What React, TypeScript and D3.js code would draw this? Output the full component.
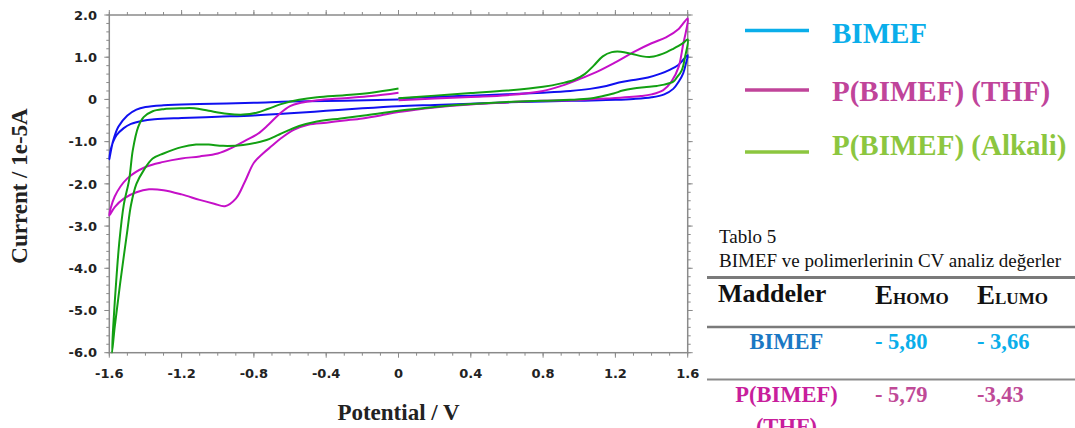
import React from "react";
import * as d3 from "d3";

// ---------- data (Potential / V, Current / 1e-5A) ----------
const bimefPotential = [
  0, 0.2, 0.4, 0.6, 0.8, 0.95, 1.06, 1.15, 1.22, 1.3, 1.38, 1.45, 1.5, 1.55, 1.6,
  1.59, 1.575, 1.55, 1.52, 1.47, 1.4, 1.3, 1.2, 1.0, 0.8, 0.6, 0.4, 0.2, 0, -0.2, -0.4, -0.6, -0.8, -1.0, -1.2, -1.35, -1.42, -1.48, -1.52, -1.56, -1.59, -1.6,
  -1.58, -1.55, -1.5, -1.45, -1.4, -1.3, -1.1, -0.8, -0.6, -0.3, 0,
];
const bimefCurrent = [
  0.02, 0.06, 0.09, 0.12, 0.16, 0.2, 0.25, 0.32, 0.4, 0.46, 0.52, 0.61, 0.7, 0.82, 1.05,
  0.85, 0.62, 0.42, 0.25, 0.12, 0.05, 0.01, -0.01, -0.03, -0.05, -0.07, -0.1, -0.13, -0.16, -0.21, -0.27, -0.33, -0.38, -0.41, -0.44, -0.47, -0.51, -0.58, -0.68, -0.85, -1.15, -1.42,
  -1.0, -0.65, -0.38, -0.24, -0.18, -0.14, -0.11, -0.08, -0.05, -0.03, 0.0,
];

const thfPotential = [
  0, 0.2, 0.4, 0.6, 0.8, 0.9, 1.0, 1.1, 1.2, 1.3, 1.4, 1.48, 1.55, 1.6,
  1.59, 1.576, 1.55, 1.51, 1.465, 1.4, 1.34, 1.15, 0.97, 0.78, 0.6, 0.4, 0.2, 0,
  -0.1, -0.2, -0.3, -0.4, -0.5, -0.58, -0.65, -0.7, -0.75, -0.8, -0.85, -0.9, -0.96, -1.02, -1.1, -1.2, -1.3, -1.38, -1.45, -1.52, -1.57, -1.6,
  -1.57, -1.5, -1.4, -1.3, -1.2, -1.1, -1.0, -0.92, -0.85, -0.78, -0.72, -0.66, -0.6, -0.54, -0.45, -0.3, -0.15, 0,
];
const thfCurrent = [
  -0.02, 0.02, 0.06, 0.1, 0.2, 0.32, 0.48, 0.66, 0.88, 1.12, 1.33, 1.47, 1.67, 1.92,
  1.6, 1.33, 0.77, 0.42, 0.22, 0.12, 0.08, 0.02, -0.02, -0.03, -0.07, -0.12, -0.19, -0.3,
  -0.38, -0.45, -0.5, -0.55, -0.6, -0.72, -0.92, -1.1, -1.28, -1.5, -1.95, -2.35, -2.53, -2.47, -2.38, -2.25, -2.15, -2.13, -2.2, -2.35, -2.55, -2.75,
  -2.3, -1.87, -1.6, -1.48, -1.4, -1.35, -1.28, -1.14, -0.98, -0.82, -0.6, -0.35, -0.16, -0.08, -0.02, 0.03, 0.08, 0.16,
];

const alkaliPotential = [
  0, 0.2, 0.4, 0.6, 0.8, 0.9, 0.97, 1.03, 1.08, 1.13, 1.18, 1.23, 1.29, 1.35, 1.4, 1.46, 1.52, 1.57, 1.6,
  1.585, 1.567, 1.54, 1.52, 1.47, 1.43, 1.36, 1.3, 1.24, 1.19, 1.12, 1.06, 0.95, 0.8, 0.6, 0.4, 0.2, 0,
  -0.19, -0.32, -0.47, -0.55, -0.66, -0.73, -0.86, -0.97, -1.05, -1.12, -1.2, -1.3, -1.36, -1.41, -1.45, -1.48, -1.5, -1.54, -1.57, -1.585,
  -1.58, -1.565, -1.545, -1.52, -1.49, -1.47, -1.44, -1.41, -1.36, -1.3, -1.2, -1.13, -1.05, -0.95, -0.86, -0.78, -0.72, -0.64, -0.55, -0.45, -0.3, -0.15, 0,
];
const alkaliCurrent = [
  0.03, 0.09, 0.15, 0.21, 0.3, 0.38, 0.46, 0.6, 0.8, 1.02, 1.12, 1.13, 1.08, 1.02, 1.01, 1.08, 1.2, 1.32, 1.42,
  1.0, 0.69, 0.52, 0.42, 0.35, 0.32, 0.29, 0.26, 0.21, 0.14, 0.07, 0.02, -0.01, -0.03, -0.06, -0.11, -0.18, -0.27,
  -0.38, -0.45, -0.54, -0.63, -0.83, -0.96, -1.08, -1.1, -1.07, -1.07, -1.13, -1.28, -1.4, -1.68, -2.0, -2.5, -3.1, -4.36, -5.39, -6.0,
  -5.5, -4.5, -3.4, -2.5, -1.9, -1.2, -0.65, -0.42, -0.28, -0.23, -0.21, -0.21, -0.27, -0.34, -0.36, -0.31, -0.22, -0.1, -0.01, 0.05, 0.1, 0.16, 0.26,
];

const xTickValues = [-1.6, -1.2, -0.8, -0.4, 0, 0.4, 0.8, 1.2, 1.6];
const yTickValues = [2, 1, 0, -1, -2, -3, -4, -5, -6];

const seriesNames = ["BIMEF", "P(BIMEF) (THF)", "P(BIMEF) (Alkali)"];

const tableMaterials = ["BIMEF", "P(BIMEF)"];
const tableHomo = ["- 5,80", "- 5,79"];
const tableLumo = ["- 3,66", "-3,43"];

// ---------- styling ----------
const W = 1075;
const H = 428;
const curveColors = ["#1010f0", "#c510c8", "#12a012"];
const legendColors = ["#0aaeea", "#c0449a", "#8cc63f"];
const tickFont = "'DejaVu Sans', sans-serif";
const serif = "'Liberation Serif', 'Times New Roman', serif";

export default function App() {
  const x = d3.scaleLinear().domain([-1.6, 1.6]).range([109.3, 687.7]);
  const y = d3.scaleLinear().domain([-6, 2]).range([352.7, 15]);

  const line = d3
    .line<[number, number]>()
    .x((d) => x(d[0]))
    .y((d) => y(d[1]))
    .curve(d3.curveCatmullRom.alpha(0.5));

  const series = [
    d3.zip(bimefPotential, bimefCurrent) as [number, number][],
    d3.zip(thfPotential, thfCurrent) as [number, number][],
    d3.zip(alkaliPotential, alkaliCurrent) as [number, number][],
  ];

  const [x0, x1] = x.range();
  const [yb, yt] = y.range();
  const axisColor = "#8a8a8a";

  const xMinor = d3.range(0, 33).map((i) => -1.6 + i * 0.1);
  const yMinor = d3.range(0, 41).map((i) => -6 + i * 0.2);
  const fmt = (v: number) => (Math.abs(v) < 1e-9 ? "0" : v.toFixed(1));

  return (
    <svg
      width={W}
      height={H}
      style={{ position: "absolute", left: 0, top: 0, background: "#fff" }}
    >
      <rect x={0} y={0} width={W} height={H} fill="#fff" />
      <defs>
        <clipPath id="plotclip">
          <rect x={x0 - 2} y={yt - 4} width={x1 - x0 + 4} height={yb - yt + 6} />
        </clipPath>
      </defs>

      {/* minor ticks */}
      <g stroke={axisColor} strokeWidth={1}>
        {xMinor.map((v, i) => (
          <g key={"xm" + i}>
            <line x1={x(v)} x2={x(v)} y1={yb} y2={yb + 3} />
            <line x1={x(v)} x2={x(v)} y1={yt} y2={yt - 3} />
          </g>
        ))}
        {yMinor.map((v, i) => (
          <g key={"ym" + i}>
            <line x1={x0} x2={x0 - 3} y1={y(v)} y2={y(v)} />
            <line x1={x1} x2={x1 + 3} y1={y(v)} y2={y(v)} />
          </g>
        ))}
        {xTickValues.map((v, i) => (
          <g key={"xM" + i}>
            <line x1={x(v)} x2={x(v)} y1={yb} y2={yb + 5} />
            <line x1={x(v)} x2={x(v)} y1={yt} y2={yt - 5} />
          </g>
        ))}
        {yTickValues.map((v, i) => (
          <g key={"yM" + i}>
            <line x1={x0} x2={x0 - 5} y1={y(v)} y2={y(v)} />
            <line x1={x1} x2={x1 + 5} y1={y(v)} y2={y(v)} />
          </g>
        ))}
      </g>
      <rect
        x={x0}
        y={yt}
        width={x1 - x0}
        height={yb - yt}
        fill="none"
        stroke={axisColor}
        strokeWidth={1.5}
      />

      {/* tick labels */}
      <g fontFamily={tickFont} fontWeight="bold" fontSize={13} fill="#222">
        {yTickValues.map((v, i) => (
          <text key={"yl" + i} x={97} y={y(v) + 4.7} textAnchor="end">
            {fmt(v)}
          </text>
        ))}
        {xTickValues.map((v, i) => (
          <text key={"xl" + i} x={x(v)} y={378} textAnchor="middle">
            {fmt(v)}
          </text>
        ))}
      </g>

      {/* axis titles */}
      <text
        x={(x0 + x1) / 2}
        y={420}
        textAnchor="middle"
        fontFamily={serif}
        fontWeight="bold"
        fontSize={23}
        fill="#222"
      >
        Potential / V
      </text>
      <text
        transform={`translate(27,186) rotate(-90)`}
        textAnchor="middle"
        fontFamily={serif}
        fontWeight="bold"
        fontSize={23}
        fill="#222"
      >
        Current / 1e-5A
      </text>

      {/* curves */}
      <g clipPath="url(#plotclip)" fill="none" strokeWidth={2} strokeLinejoin="round">
        {series.map((s, i) => (
          <path key={"c" + i} d={line(s) || ""} stroke={curveColors[i]} />
        ))}
      </g>

      {/* legend */}
      {seriesNames.map((name, i) => {
        const ly = [30.5, 90, 152][i];
        const by = [43, 100.5, 154.5][i];
        return (
          <g key={"lg" + i}>
            <line x1={745} x2={809} y1={ly} y2={ly} stroke={legendColors[i]} strokeWidth={3.5} />
            <text
              x={832}
              y={by}
              fontFamily={serif}
              fontWeight="bold"
              fontSize={29}
              fill={legendColors[i]}
            >
              {name}
            </text>
          </g>
        );
      })}

      {/* table */}
      <g fontFamily={serif}>
        <text x={719} y={243} fontSize={19} fill="#111">
          Tablo 5
        </text>
        <text x={719} y={266.5} fontSize={19} fill="#111">
          BIMEF ve polimerlerinin CV analiz değerler
        </text>
        <line x1={707} x2={1075} y1={277.5} y2={277.5} stroke="#7a7a7a" strokeWidth={3} />
        <text x={718} y={302} fontSize={26} fontWeight="bold" fill="#111">
          Maddeler
        </text>
        <text x={875} y={304} fontWeight="bold" fill="#111">
          <tspan fontSize={27}>E</tspan>
          <tspan fontSize={17}>HOMO</tspan>
        </text>
        <text x={977} y={304} fontWeight="bold" fill="#111">
          <tspan fontSize={27}>E</tspan>
          <tspan fontSize={17}>LUMO</tspan>
        </text>
        <line x1={707} x2={1075} y1={327} y2={327} stroke="#7a7a7a" strokeWidth={2.5} />
        <line x1={707} x2={1075} y1={379.5} y2={379.5} stroke="#8a8a8a" strokeWidth={2} />

        <text x={786.5} y={348.5} textAnchor="middle" fontSize={22.5} fontWeight="bold" fill="#1b78c4">
          {tableMaterials[0]}
        </text>
        <text x={875} y={348.5} fontSize={22.5} fontWeight="bold" fill="#0aaeea">
          {tableHomo[0]}
        </text>
        <text x={977} y={348.5} fontSize={22.5} fontWeight="bold" fill="#0aaeea">
          {tableLumo[0]}
        </text>

        <text x={786.5} y={402} textAnchor="middle" fontSize={22.5} fontWeight="bold" fill="#c81e9c">
          {tableMaterials[1]}
        </text>
        <text x={786.5} y={434} textAnchor="middle" fontSize={22.5} fontWeight="bold" fill="#c81e9c">
          (THF)
        </text>
        <text x={875} y={402} fontSize={22.5} fontWeight="bold" fill="#bf4a97">
          {tableHomo[1]}
        </text>
        <text x={977} y={402} fontSize={22.5} fontWeight="bold" fill="#bf4a97">
          {tableLumo[1]}
        </text>
      </g>
    </svg>
  );
}
